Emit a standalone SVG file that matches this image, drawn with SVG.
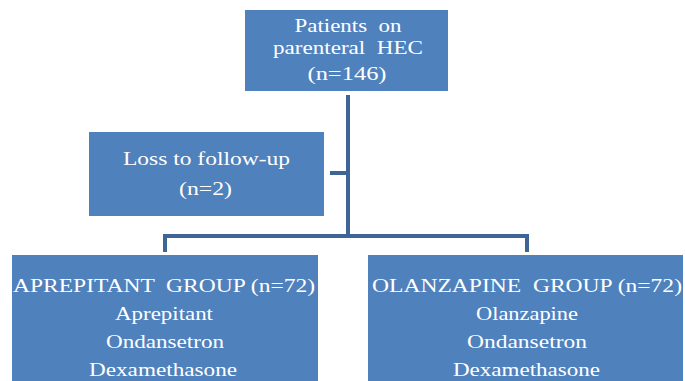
<svg xmlns="http://www.w3.org/2000/svg" width="685" height="381" viewBox="0 0 685 381">
<style>
.box{fill:#4F81BD;}
.t{font-family:"Liberation Serif","Times New Roman",serif;font-size:18px;fill:#FFFFFF;text-anchor:middle;}
.ln{stroke:#3D6696;stroke-width:4;fill:none;}
</style>
<rect width="685" height="381" fill="#FFFFFF"/>
<g id="connectors">
<line class="ln" x1="348" y1="95" x2="348" y2="238"/>
<line class="ln" x1="330" y1="173" x2="348" y2="173"/>
<line class="ln" x1="163" y1="236" x2="529" y2="236"/>
<line class="ln" x1="165" y1="234" x2="165" y2="252"/>
<line class="ln" x1="527" y1="234" x2="527" y2="252"/>
</g>
<g id="patients">
<rect class="box" x="245" y="10" width="203" height="81"/>
<text class="t" x="348" y="32" textLength="107" lengthAdjust="spacingAndGlyphs">Patients &#160;on</text>
<text class="t" x="348" y="54" textLength="150" lengthAdjust="spacingAndGlyphs">parenteral &#160;HEC</text>
<text class="t" x="347" y="80" textLength="79" lengthAdjust="spacingAndGlyphs">(n=146)</text>
</g>
<g id="loss">
<rect class="box" x="89" y="132" width="235" height="84"/>
<text class="t" x="206.5" y="165" textLength="167" lengthAdjust="spacingAndGlyphs">Loss to follow-up</text>
<text class="t" x="205.5" y="195" textLength="53" lengthAdjust="spacingAndGlyphs">(n=2)</text>
</g>
<g id="aprepitant">
<rect class="box" x="12" y="255" width="306" height="130"/>
<text class="t" x="164" y="292" textLength="302" lengthAdjust="spacingAndGlyphs">APREPITANT &#160;GROUP (n=72)</text>
<text class="t" x="164" y="320" textLength="98" lengthAdjust="spacingAndGlyphs">Aprepitant</text>
<text class="t" x="165" y="348" textLength="118" lengthAdjust="spacingAndGlyphs">Ondansetron</text>
<text class="t" x="163" y="376" textLength="148" lengthAdjust="spacingAndGlyphs">Dexamethasone</text>
</g>
<g id="olanzapine">
<rect class="box" x="368" y="255" width="315" height="130"/>
<text class="t" x="527" y="292" textLength="310" lengthAdjust="spacingAndGlyphs">OLANZAPINE &#160;GROUP (n=72)</text>
<text class="t" x="527" y="320" textLength="102" lengthAdjust="spacingAndGlyphs">Olanzapine</text>
<text class="t" x="527" y="348" textLength="120" lengthAdjust="spacingAndGlyphs">Ondansetron</text>
<text class="t" x="526.5" y="376" textLength="147" lengthAdjust="spacingAndGlyphs">Dexamethasone</text>
</g>
</svg>
